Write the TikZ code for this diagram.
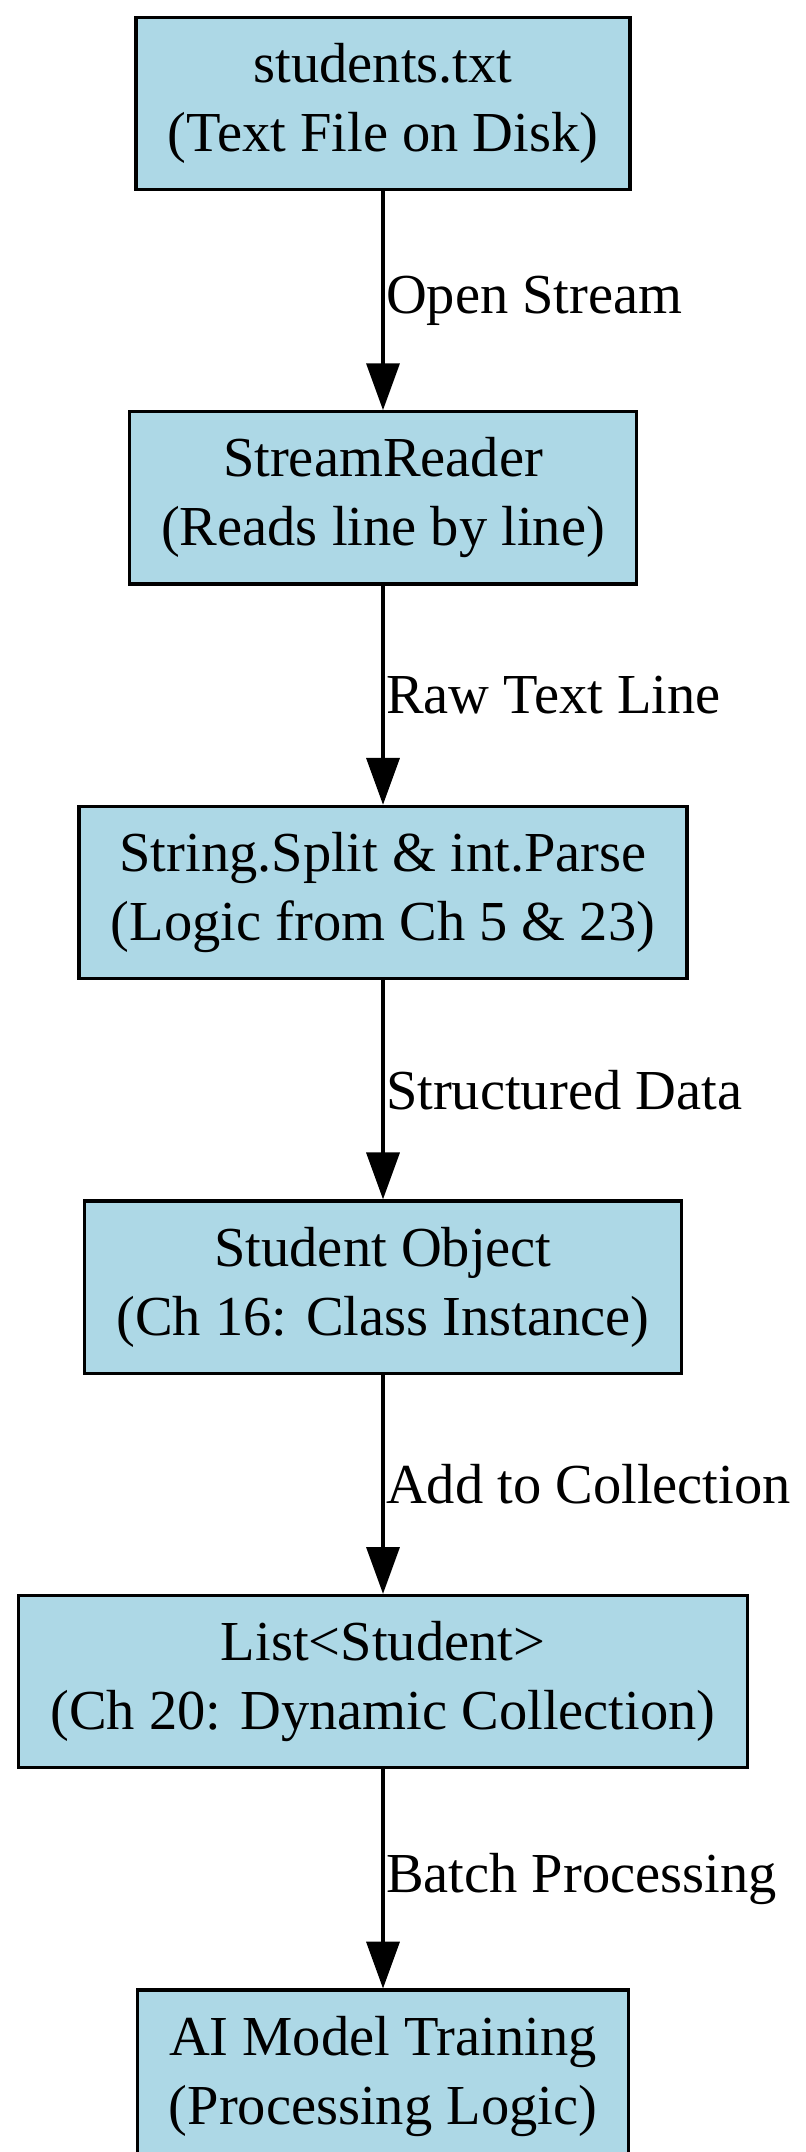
\documentclass[tikz,border=0pt]{standalone}
\usepackage{fontspec}
\setmainfont{Liberation Serif}
\usetikzlibrary{positioning,arrows.meta}
\definecolor{boxblue}{HTML}{ADD8E6}

\begin{document}
\begin{tikzpicture}
[
x=1pt, y=1pt,
stage/.style={rectangle, draw=black, line width=2.4pt, fill=boxblue,
  minimum height=125pt, inner xsep=23pt, align=center, font=\fontsize{41}{50}\selectfont,
  node distance=159pt},
flow/.style={-{Triangle[length=34pt,width=24pt]}, line width=2.4pt},
lbl/.style={right, inner sep=1pt, font=\fontsize{41}{50}\selectfont}
]
\useasboundingbox (0,0) rectangle (585,-1562);
%Nodes
\node[stage]  (file)   at (278,-75)        {students.txt\\(Text File on Disk)};
\node[stage]  (reader) [below=of file]     {StreamReader\\(Reads line by line)};
\node[stage]  (parse)  [below=of reader]   {String.Split \& int.Parse\\(Logic from Ch 5 \& 23)};
\node[stage]  (obj)    [below=of parse]    {Student Object\\(Ch 16: Class Instance)};
\node[stage]  (list)   [below=of obj]      {List<Student>\\(Ch 20: Dynamic Collection)};
\node[stage]  (train)  [below=of list]     {AI Model Training\\(Processing Logic)};

%Lines
\draw[flow] (file)   -- node[lbl] {Open Stream}        (reader);
\draw[flow] (reader) -- node[lbl] {Raw Text Line}      (parse);
\draw[flow] (parse)  -- node[lbl] {Structured Data}    (obj);
\draw[flow] (obj)    -- node[lbl] {Add to Collection}  (list);
\draw[flow] (list)   -- node[lbl] {Batch Processing}   (train);
\end{tikzpicture}
\end{document}
